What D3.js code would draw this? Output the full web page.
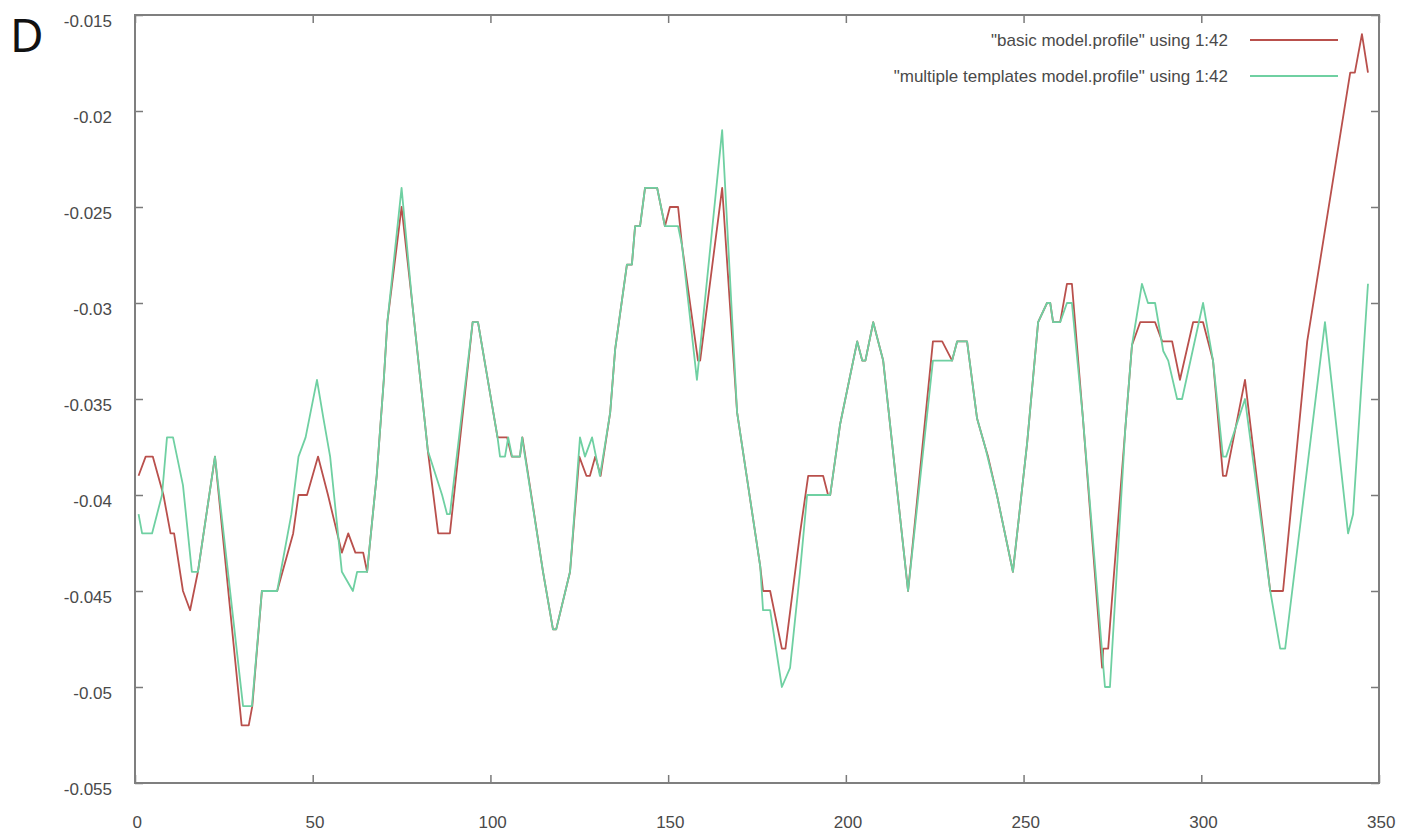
<!DOCTYPE html>
<html>
<head>
<meta charset="utf-8">
<script src="https://cdn.jsdelivr.net/npm/d3@7"></script>
<style>
  body { margin: 0; background: #fff; }
  .tick text { font-family: "Liberation Sans", Arial, sans-serif; font-size: 17px; fill: #4a4a4a; }
  .tick line { stroke: #7a7a7a; stroke-width: 1.5; }
  .domain { display: none; }
</style>
</head>
<body>
<div id="chart"></div>
<script>
// series: x positions and values at the polyline vertices
var basicX = [1, 3, 5, 6.5, 8, 10, 11, 13.5, 15.5, 17.7, 22.5, 30, 32, 33, 35.7, 40, 44.5, 46, 48.4, 51.5, 54.3, 58.2, 60, 62, 64.2, 65.3,
  68, 70, 71, 75, 78, 82.4, 85.3, 88.6, 95, 96.5, 102, 104.7, 106, 108.3, 109, 114.8, 117.6, 118.5, 122.4, 125, 127, 128, 129.5, 131,
  133.7, 135.1, 138.4, 139.8, 140.7, 142.1, 143.5, 146.9, 149.1, 150.5, 152.8, 153.9, 158.4, 159, 165.2, 169.4, 175.9, 176.7, 178.7,
  182, 183, 187.1, 189.4, 193.6, 195, 195.6, 198.4, 203.2, 204.6, 205.5, 207.7, 209.1, 210.5, 217.5, 224.5, 227.1, 229.9, 231.3, 234.1,
  236.9, 239.2, 240, 242.5, 247, 251, 254.1, 256.6, 257.5, 258.3, 260.3, 262.2, 263.6, 266.7, 272.1, 272.4, 273.8, 278.6, 280.5, 282.8,
  287, 289, 291.8, 294, 297.7, 300.5, 303.3, 306.1, 307, 312.3, 319.4, 323, 329.8, 341.9, 343.2, 345.2, 346.9];
var basicY = [-0.039, -0.038, -0.038, -0.039, -0.040, -0.042, -0.042, -0.045, -0.046, -0.044, -0.038, -0.052, -0.052, -0.051, -0.045, -0.045, -0.042, -0.040, -0.040, -0.038, -0.040, -0.043, -0.042, -0.043, -0.043, -0.044,
  -0.039, -0.034, -0.031, -0.025, -0.030, -0.0377, -0.042, -0.042, -0.031, -0.031, -0.037, -0.037, -0.038, -0.038, -0.037, -0.044, -0.047, -0.047, -0.044, -0.038, -0.039, -0.039, -0.038, -0.039,
  -0.0357, -0.0324, -0.028, -0.028, -0.026, -0.026, -0.024, -0.024, -0.026, -0.025, -0.025, -0.027, -0.033, -0.033, -0.024, -0.0357, -0.0437, -0.045, -0.045,
  -0.048, -0.048, -0.042, -0.039, -0.039, -0.040, -0.040, -0.0363, -0.032, -0.033, -0.033, -0.031, -0.032, -0.033, -0.045, -0.032, -0.032, -0.033, -0.032, -0.032,
  -0.036, -0.0375, -0.038, -0.040, -0.044, -0.0373, -0.031, -0.030, -0.030, -0.031, -0.031, -0.029, -0.029, -0.036, -0.049, -0.048, -0.048, -0.0366, -0.0322, -0.031,
  -0.031, -0.032, -0.032, -0.034, -0.031, -0.031, -0.033, -0.039, -0.039, -0.034, -0.045, -0.045, -0.032, -0.018, -0.018, -0.016, -0.018];

var multiX = [1, 2, 4.8, 6.2, 7.6, 9, 10.7, 13.5, 16, 17.7, 22.5, 30.4, 32.9, 35.7, 40, 44, 46, 48, 51.2, 53, 54.9, 58.2, 61.3, 62.5, 65.3,
  68, 70, 71, 75, 78, 82.4, 86.4, 87.8, 88.6, 95, 96.5, 102, 102.7, 104.1, 105, 106.1, 108.3, 108.9, 114.8, 117.6, 118.5, 122.4, 125.2,
  126.6, 128.6, 130.8, 131.7, 133.7, 135.1, 138.4, 139.8, 140.7, 142.1, 143.5, 146.9, 149.1, 152.8, 153.9, 158.1, 165.2, 169.4, 175.9,
  176.7, 178.7, 182, 184.3, 187.1, 189.1, 195.6, 198.4, 203.2, 204.6, 205.5, 207.7, 209.1, 210.5, 217.5, 224.5, 229.9, 231.3, 234.1,
  236.9, 239.2, 242.5, 247, 251, 254.1, 256.6, 257.5, 258.3, 260.3, 262.2, 263.6, 266.7, 272.9, 274.3, 278.6, 280.5, 283.3, 285, 287,
  289.3, 290.7, 293.2, 294.6, 300.5, 303.3, 306.1, 307, 312.3, 319.4, 322.2, 323.6, 334.8, 341.3, 342.7, 346.9];
var multiY = [-0.041, -0.042, -0.042, -0.041, -0.040, -0.037, -0.037, -0.0395, -0.044, -0.044, -0.038, -0.051, -0.051, -0.045, -0.045, -0.041, -0.038, -0.037, -0.034, -0.036, -0.038, -0.044, -0.045, -0.044, -0.044,
  -0.039, -0.034, -0.031, -0.024, -0.030, -0.0377, -0.040, -0.041, -0.041, -0.031, -0.031, -0.037, -0.038, -0.038, -0.037, -0.038, -0.038, -0.037, -0.044, -0.047, -0.047, -0.044, -0.037,
  -0.038, -0.037, -0.039, -0.038, -0.0357, -0.0324, -0.028, -0.028, -0.026, -0.026, -0.024, -0.024, -0.026, -0.026, -0.027, -0.034, -0.021, -0.0357, -0.0437,
  -0.046, -0.046, -0.050, -0.049, -0.044, -0.040, -0.040, -0.0363, -0.032, -0.033, -0.033, -0.031, -0.032, -0.033, -0.045, -0.033, -0.033, -0.032, -0.032,
  -0.036, -0.0375, -0.040, -0.044, -0.0373, -0.031, -0.030, -0.030, -0.031, -0.031, -0.030, -0.030, -0.036, -0.050, -0.050, -0.0366, -0.0322, -0.029, -0.030, -0.030,
  -0.0325, -0.033, -0.035, -0.035, -0.030, -0.033, -0.038, -0.038, -0.035, -0.045, -0.048, -0.048, -0.031, -0.042, -0.041, -0.029];

var seriesNames = ['"basic model.profile" using 1:42', '"multiple templates model.profile" using 1:42'];
var seriesColors = ["#b9504c", "#6fd0a2"];

var xTicks = [0, 50, 100, 150, 200, 250, 300, 350];
var yTicks = [-0.015, -0.02, -0.025, -0.03, -0.035, -0.04, -0.045, -0.05, -0.055];
var yTickLabels = ["-0.015", "-0.02", "-0.025", "-0.03", "-0.035", "-0.04", "-0.045", "-0.05", "-0.055"];

var margin = { top: 15, right: 37, bottom: 55, left: 135 },
    width = 1416 - margin.left - margin.right,
    height = 838 - margin.top - margin.bottom;

var svg = d3.select("#chart").append("svg")
    .attr("width", 1416)
    .attr("height", 838);

var canvas = svg.append("g")
    .attr("transform", "translate(" + margin.left + "," + margin.top + ")");

var xScale = d3.scaleLinear().domain([0, 350]).range([0, width]);
var yScale = d3.scaleLinear().domain([-0.055, -0.015]).range([height, 0]);

// left axis with labels, ticks pointing inward
canvas.append("g")
    .attr("class", "yAxis")
    .call(d3.axisLeft(yScale).tickValues(yTicks)
        .tickFormat(function (d, i) { return yTickLabels[i]; })
        .tickSizeInner(-8).tickSizeOuter(0).tickPadding(23))
    .selectAll("text").attr("dy", "0.65em");

canvas.append("g")
    .attr("class", "yAxisRight")
    .attr("transform", "translate(" + width + ",0)")
    .call(d3.axisRight(yScale).tickValues(yTicks).tickFormat("")
        .tickSizeInner(-8).tickSizeOuter(0));

canvas.append("g")
    .attr("class", "xAxis")
    .attr("transform", "translate(0," + height + ")")
    .call(d3.axisBottom(xScale).tickValues(xTicks)
        .tickSizeInner(-8).tickSizeOuter(0).tickPadding(33))
    .selectAll("text").attr("dx", "0.1em");

canvas.append("g")
    .attr("class", "xAxisTop")
    .call(d3.axisTop(xScale).tickValues(xTicks).tickFormat("")
        .tickSizeInner(-8).tickSizeOuter(0));

var line = d3.line()
    .x(function (d) { return xScale(d[0]); })
    .y(function (d) { return yScale(d[1]); });

var series = [d3.zip(basicX, basicY), d3.zip(multiX, multiY)];

canvas.selectAll(".series")
    .data(series)
    .enter()
    .append("path")
    .attr("class", "series")
    .attr("fill", "none")
    .attr("stroke", function (d, i) { return seriesColors[i]; })
    .attr("stroke-width", 1.8)
    .attr("stroke-linejoin", "round")
    .attr("d", line);

// frame
canvas.append("rect")
    .attr("width", width)
    .attr("height", height)
    .attr("fill", "none")
    .attr("stroke", "#7f7f7f")
    .attr("stroke-width", 2);

// legend
var legend = canvas.selectAll(".legend")
    .data(seriesNames)
    .enter()
    .append("g")
    .attr("class", "legend")
    .attr("transform", function (d, i) { return "translate(0," + (25 + i * 36) + ")"; });

legend.append("text")
    .attr("x", 1228 - margin.left)
    .attr("dy", "0.35em")
    .attr("text-anchor", "end")
    .style("font-family", "Liberation Sans, Arial, sans-serif")
    .style("font-size", "17px")
    .style("fill", "#4a4a4a")
    .text(function (d) { return d; });

legend.append("line")
    .attr("x1", 1250 - margin.left)
    .attr("x2", 1338 - margin.left)
    .attr("stroke", function (d, i) { return seriesColors[i]; })
    .attr("stroke-width", 2);

// panel letter
svg.append("text")
    .attr("x", 10)
    .attr("y", 52)
    .style("font-family", "Noto Sans, Open Sans, sans-serif")
    .style("font-size", "46px")
    .style("fill", "#111")
    .text("D");
</script>
</body>
</html>
